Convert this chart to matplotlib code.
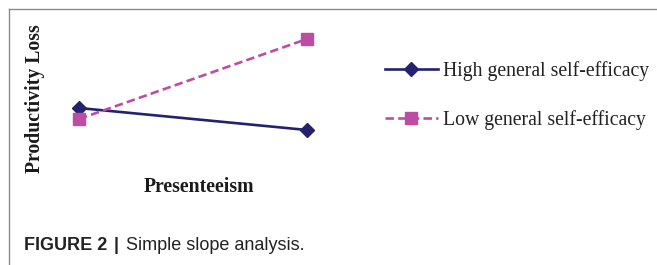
import matplotlib
matplotlib.use("Agg")
import matplotlib.pyplot as plt
from matplotlib.lines import Line2D

# Data
x_levels = [0, 1]  # low / high presenteeism
high_gse = [0.62, 0.40]
low_gse = [0.51, 1.31]
series_labels = ["High general self-efficacy", "Low general self-efficacy"]
xlabel = "Presenteeism"
ylabel = "Productivity Loss"
caption_bold = "FIGURE 2"
caption_rest = "Simple slope analysis."

W, H = 657, 265
fig = plt.figure(figsize=(W / 100, H / 100), dpi=100)
ax = fig.add_axes([0, 0, 1, 1])
# map data to pixel layout: x=0 -> 79px, x=1 -> 307px ; y value = (170 - ypix)/100
ax.set_xlim(-79 / 228, (W - 79) / 228)
ax.set_ylim((170 - H) / 100, 170 / 100)
ax.axis("off")

navy = "#24226F"
magenta = "#BC4DA3"

l1, = ax.plot(x_levels, high_gse, color=navy, lw=1.9, marker="D", ms=7.5,
              markerfacecolor=navy, markeredgecolor=navy, label=series_labels[0])
l2, = ax.plot(x_levels, low_gse, color=magenta, lw=1.9, ls=(0, (3.2, 1.6)), marker="s", ms=8.5,
              markerfacecolor=magenta, markeredgecolor=magenta, label=series_labels[1])

serif = "Liberation Serif"
fig.text(35 / W, 1 - 99 / H, ylabel, rotation=90, ha="center", va="center",
         fontsize=14.2, fontweight="bold", family=serif, color="#1a1a1a")
fig.text(199 / W, 1 - 187 / H, xlabel, ha="center", va="center",
         fontsize=14.2, fontweight="bold", family=serif, color="#1a1a1a")

leg = ax.legend(handles=[l1, l2], loc="upper left", bbox_to_anchor=(367 / W, 1 - 43 / H),
                bbox_transform=fig.transFigure, frameon=False, handlelength=2.7,
                handletextpad=0.25, labelspacing=1.5,
                prop={"family": serif, "size": 14.2})
for t in leg.get_texts():
    t.set_color("#222222")

# frame lines
fig.add_artist(Line2D([9 / W, 1], [1 - 9 / H, 1 - 9 / H], color="#8a8a8a", lw=1.0,
                      transform=fig.transFigure))
fig.add_artist(Line2D([9 / W, 9 / W], [1 - 9 / H, 0], color="#8a8a8a", lw=1.0,
                      transform=fig.transFigure))

sans = "Liberation Sans"
t1 = fig.text(24 / W, 1 - 245 / H, caption_bold, ha="left", va="center",
              fontsize=13, fontweight="bold", family=sans, color="#222222")
fig.canvas.draw()
bb = t1.get_window_extent()
t2 = fig.text((bb.x1 + 6) / W, 1 - 245 / H, "|", ha="left", va="center",
              fontsize=13, fontweight="bold", family=sans, color="#222222")
bb2 = t2.get_window_extent()
fig.text((bb2.x1 + 8) / W, 1 - 245 / H, caption_rest, ha="left", va="center",
         fontsize=13, family=sans, color="#222222")

fig.savefig("out.png", dpi=100)
